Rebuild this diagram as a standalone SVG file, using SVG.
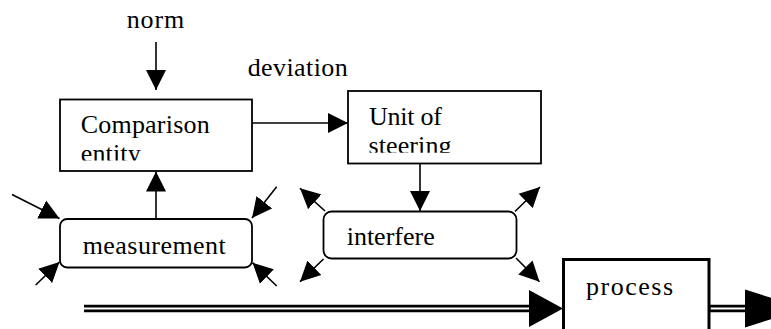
<svg xmlns="http://www.w3.org/2000/svg" width="771" height="329" viewBox="0 0 771 329">
<style>
text{font-family:"Liberation Serif","Times New Roman",serif;font-size:26px;fill:#000}
.box{fill:#fff;stroke:#000;stroke-width:1.8}
.rbox{fill:#fff;stroke:#000;stroke-width:1.8}
.pbox{fill:#fff;stroke:#000;stroke-width:3}
.ln{stroke:#000;stroke-width:1.6;fill:none}
.dbl{stroke:#000;stroke-width:7.5;fill:none}
.dblw{stroke:#fff;stroke-width:2;fill:none}
.big{fill:#000}
</style>
<defs>
<marker id="ah" markerUnits="userSpaceOnUse" markerWidth="21" markerHeight="21" refX="20" refY="10" orient="auto" viewBox="0 0 21 20">
<path d="M0,0 L20,10 L0,20 z" fill="#000"/>
</marker>
<clipPath id="clipComp"><rect x="60" y="99" width="192" height="61.5"/></clipPath>
<clipPath id="clipUnit"><rect x="348" y="91" width="193" height="61.7"/></clipPath>
</defs>

<g id="labels">
<text x="126.7" y="28" textLength="57.6" lengthAdjust="spacing">norm</text>
<text x="247.7" y="76" textLength="100" lengthAdjust="spacing">deviation</text>
</g>

<g id="connectors">
<line class="ln" x1="156" y1="42" x2="156" y2="90" marker-end="url(#ah)"/>
<line class="ln" x1="252" y1="123" x2="348" y2="123" marker-end="url(#ah)"/>
<line class="ln" x1="156" y1="219" x2="156" y2="171.5" marker-end="url(#ah)"/>
<line class="ln" x1="420" y1="163.5" x2="420" y2="211" marker-end="url(#ah)"/>
<line class="ln" x1="12" y1="194.5" x2="59.5" y2="218.5" marker-end="url(#ah)"/>
<line class="ln" x1="35.7" y1="285" x2="59.5" y2="262" marker-end="url(#ah)"/>
<line class="ln" x1="276.7" y1="186.7" x2="252" y2="218" marker-end="url(#ah)"/>
<line class="ln" x1="276.7" y1="286" x2="252.5" y2="262.7" marker-end="url(#ah)"/>
<line class="ln" x1="325" y1="211" x2="300" y2="188.3" marker-end="url(#ah)"/>
<line class="ln" x1="323.5" y1="259" x2="300" y2="281.7" marker-end="url(#ah)"/>
<line class="ln" x1="515" y1="211.5" x2="540" y2="187" marker-end="url(#ah)"/>
<line class="ln" x1="516" y1="258" x2="539.5" y2="281.7" marker-end="url(#ah)"/>
<line class="dbl" x1="84" y1="308.6" x2="530" y2="308.6"/>
<line class="dblw" x1="84" y1="308.6" x2="531" y2="308.6"/>
<path class="big" d="M529,290 L563,308.5 L529,327 z"/>
<line class="dbl" x1="709" y1="308.6" x2="746" y2="308.6"/>
<line class="dblw" x1="710.5" y1="308.6" x2="747" y2="308.6"/>
<path class="big" d="M745,289.5 L805,308.5 L745,327.5 z"/>
</g>

<g id="comparison">
<rect class="box" x="60" y="99.5" width="192" height="71.5"/>
<g clip-path="url(#clipComp)">
<text x="80.7" y="133" textLength="129" lengthAdjust="spacing">Comparison</text>
<text x="80.7" y="162" textLength="60" lengthAdjust="spacing">entity</text>
</g>
</g>

<g id="unit">
<rect class="box" x="348" y="91" width="193" height="72.5"/>
<g clip-path="url(#clipUnit)">
<text x="369" y="125" textLength="73" lengthAdjust="spacing">Unit of</text>
<text x="368.5" y="154" textLength="83" lengthAdjust="spacing">steering</text>
</g>
</g>

<g id="measurement">
<rect class="rbox" x="60" y="219" width="192" height="48.5" rx="7" ry="7"/>
<text x="82.7" y="254" textLength="143" lengthAdjust="spacing">measurement</text>
</g>

<g id="interfere">
<rect class="rbox" x="323.5" y="211.5" width="193" height="47" rx="8" ry="8"/>
<text x="346.7" y="245" textLength="88" lengthAdjust="spacing">interfere</text>
</g>

<g id="process">
<rect class="pbox" x="563.5" y="259.5" width="145.5" height="80"/>
<text x="586" y="295" textLength="87" lengthAdjust="spacing">process</text>
</g>
</svg>
